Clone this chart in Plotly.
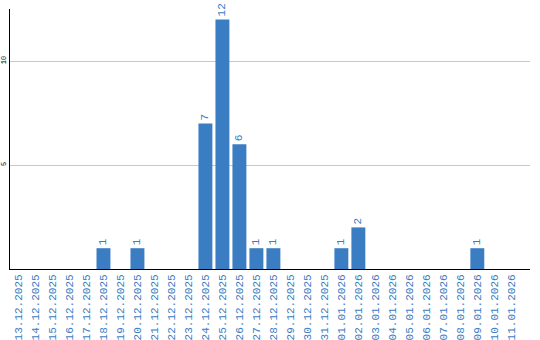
import plotly.graph_objects as go

dates = ["13.12.2025","14.12.2025","15.12.2025","16.12.2025","17.12.2025","18.12.2025",
         "19.12.2025","20.12.2025","21.12.2025","22.12.2025","23.12.2025","24.12.2025",
         "25.12.2025","26.12.2025","27.12.2025","28.12.2025","29.12.2025","30.12.2025",
         "31.12.2025","01.01.2026","02.01.2026","03.01.2026","04.01.2026","05.01.2026",
         "06.01.2026","07.01.2026","08.01.2026","09.01.2026","10.01.2026","11.01.2026"]
values = [0,0,0,0,0,1, 0,1,0,0,0,7, 12,6,1,1,0,0, 0,1,2,0,0,0, 0,0,0,1,0,0]
labels = [str(v) if v > 0 else "" for v in values]

blue = "#3b7dc3"
fig = go.Figure(go.Bar(
    x=list(range(len(dates))), y=values, text=labels,
    textposition="outside", textangle=-90,
    textfont=dict(family="Liberation Mono", size=11, color=blue),
    marker=dict(color=blue, line=dict(width=0)),
    cliponaxis=False,
))
fig.update_layout(
    width=540, height=340,
    margin=dict(l=10, r=10, t=9, b=71),
    plot_bgcolor="white", paper_bgcolor="white",
    bargap=0.18, showlegend=False,
)
fig.update_xaxes(
    tickmode="array", tickvals=list(range(len(dates))), ticktext=dates,
    tickangle=-90, tickfont=dict(family="Liberation Mono", size=11, color=blue),
    range=[-0.5, 30.1], showline=True, linecolor="black", linewidth=1,
    showgrid=False, ticks="", zeroline=False, automargin=False,
)
fig.update_yaxes(
    range=[0, 12.5], tickvals=[5, 10], tickangle=-90,
    tickfont=dict(family="Liberation Mono", size=7, color="black"),
    showline=True, linecolor="black", linewidth=1, automargin=False,
    showgrid=True, gridcolor="#c8c8c8", gridwidth=1, zeroline=False, ticks="",
)
fig.write_html("out.html")
